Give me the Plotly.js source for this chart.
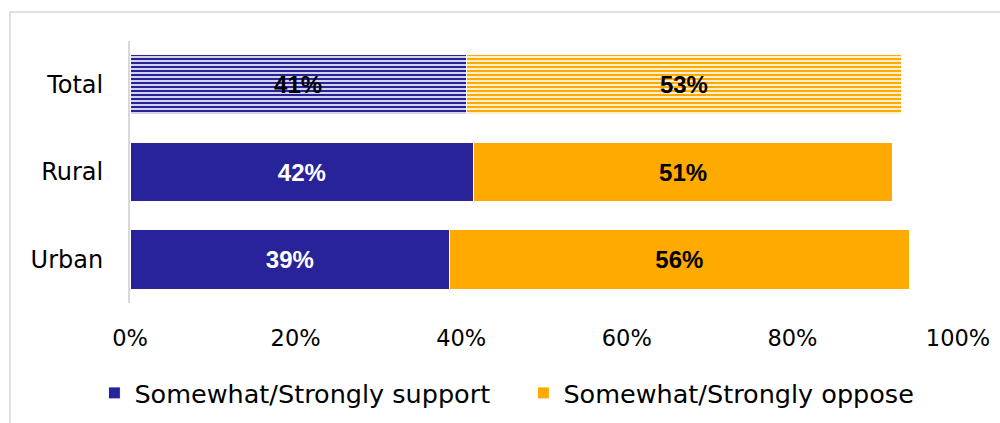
<!DOCTYPE html>
<html>
<head>
<meta charset="utf-8">
<script src="https://cdn.plot.ly/plotly-3.0.1.min.js"></script>
<style>
html,body{margin:0;padding:0;background:#fff;}
#wrap{position:relative;width:1000px;height:423px;overflow:hidden;}
#chart{position:absolute;left:0;top:0;width:1000px;height:423px;}
#frame{position:absolute;left:9px;top:11px;width:1100px;height:500px;border:2px solid #e0e0e0;pointer-events:none;box-sizing:border-box;}
</style>
</head>
<body>
<div id="wrap">
<div id="frame"></div>
<div id="chart"></div>
</div>
<script>
// Data (bottom-to-top order)
var categories = ['Urban', 'Rural', 'Total'];
var supportValues = [38.6, 41.5, 40.6];
var opposeValues = [55.5, 50.6, 52.6];
var supportLabels = ['39%', '42%', '41%'];
var opposeLabels = ['56%', '51%', '53%'];
var seriesNames = ['Somewhat/Strongly support', 'Somewhat/Strongly oppose'];
var xTickVals = [0, 20, 40, 60, 80, 100];
var xTickText = ['0%', '20%', '40%', '60%', '80%', '100%'];

var BLUE = '#29239a';
var ORANGE = '#ffaa00';
var FONT = '"DejaVu Sans", sans-serif';
var LABELFONT = '"Liberation Sans", Arial, sans-serif';

var patternShapes = categories.map(function(c){ return c === 'Total' ? '-' : ''; });

var support = {
  type: 'bar', orientation: 'h', name: seriesNames[0],
  y: categories, x: supportValues,
  text: supportLabels, textposition: 'inside', insidetextanchor: 'middle',
  textfont: {family: LABELFONT, size: 24, color: ['#ffffff', '#ffffff', '#000000'], weight: 'bold'},
  marker: {color: BLUE, line: {color: '#ffffff', width: 1},
    pattern: {shape: patternShapes, fillmode: 'replace', bgcolor: '#ffffff', fgcolor: BLUE, size: 4, solidity: 0.6}},
  width: 0.68, hoverinfo: 'none', cliponaxis: false
};
var oppose = {
  type: 'bar', orientation: 'h', name: seriesNames[1],
  y: categories, x: opposeValues,
  text: opposeLabels, textposition: 'inside', insidetextanchor: 'middle',
  textfont: {family: LABELFONT, size: 24, color: '#000000', weight: 'bold'},
  marker: {color: ORANGE, line: {color: '#ffffff', width: 1},
    pattern: {shape: patternShapes, fillmode: 'replace', bgcolor: '#ffffff', fgcolor: ORANGE, size: 4, solidity: 0.6}},
  width: 0.68, hoverinfo: 'none', cliponaxis: false
};

var layout = {
  width: 1000, height: 423,
  margin: {l: 130, r: 42, t: 41, b: 120, autoexpand: false},
  paper_bgcolor: 'rgba(0,0,0,0)', plot_bgcolor: 'rgba(0,0,0,0)',
  barmode: 'stack',
  font: {family: FONT, color: '#000000', size: 22},
  xaxis: {range: [0, 100], tickvals: xTickVals, ticktext: xTickText, showgrid: false, zeroline: false,
    showline: false, ticks: 'outside', ticklen: 15, tickcolor: 'rgba(0,0,0,0)',
    tickfont: {family: FONT, size: 22.5, color: '#000'}, fixedrange: true},
  yaxis: {range: [-0.5, 2.5], showgrid: false, zeroline: false, showline: true, linecolor: '#d9d9d9', linewidth: 2,
    ticks: 'outside', ticklen: 20, tickcolor: 'rgba(0,0,0,0)',
    tickfont: {family: FONT, size: 24, color: '#000'}, fixedrange: true},
  showlegend: true,
  legend: {orientation: 'h', x: -0.043, xanchor: 'left', y: -0.255, yanchor: 'top',
    font: {family: FONT, size: 25.5, color: '#000'}, traceorder: 'normal', itemclick: false, itemdoubleclick: false,
    entrywidth: 384, entrywidthmode: 'pixels'},
  bargap: 0.32
};

Plotly.newPlot('chart', [support, oppose], layout, {displayModeBar: false, staticPlot: true});
</script>
</body>
</html>
